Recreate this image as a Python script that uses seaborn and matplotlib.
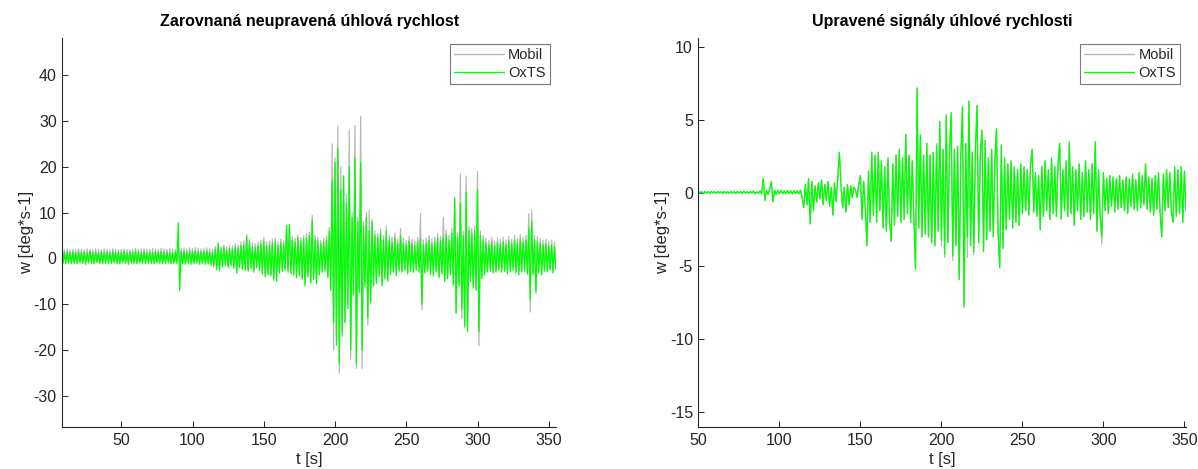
import numpy as np
import pandas as pd
import matplotlib
matplotlib.use("Agg")
import matplotlib.pyplot as plt
import seaborn as sns

# ---------------- data (1 s samples) ----------------
t0_left = 8      # first sample time of left panel [s]
t0_right = 50    # first sample time of right panel [s]

oxts_left = [
    1.4,-1.1,1.3,-1.2,1.5,-1.0,1.3,-1.2,1.4,-1.1,
    1.2,-1.2,1.5,-1.0,1.3,-1.1,1.4,-1.3,1.2,-1.0,
    1.5,-1.1,1.3,-1.2,1.4,-0.9,1.2,-1.1,1.5,-1.2,
    1.3,-1.0,1.4,-1.2,1.2,-1.1,1.5,-1.0,1.3,-1.2,
    1.4,-1.2,1.3,-1.0,1.5,-1.1,1.2,-1.3,1.4,-1.0,
    1.3,-1.1,1.6,-1.2,1.4,-1.0,1.3,-1.1,1.5,-1.2,
    1.2,-1.0,1.4,-1.1,1.3,-1.2,1.5,-1.0,1.4,-1.1,
    1.5,-1.2,1.3,-1.1,1.4,-1.0,1.2,-1.2,1.3,-1.1,
    1.4,-1.1,7.8,-7.0,1.5,-1.2,1.6,-1.3,1.4,-1.2,
    1.6,-1.3,1.5,-1.2,1.7,-1.1,1.5,-1.3,1.4,-1.2,
    1.5,-1.3,1.6,-1.2,1.4,-1.5,1.3,-1.8,2.0,-2.5,
    3.2,-2.6,2.0,-1.8,2.4,-1.5,1.8,-2.0,2.2,-1.6,
    2.0,-2.2,2.6,-3.2,2.2,-2.0,2.8,-2.4,3.0,-2.6,
    4.8,-2.8,3.4,-2.2,2.6,-3.0,2.4,-2.0,2.8,-2.6,
    3.2,-3.4,3.8,-4.0,2.8,-3.6,3.0,-3.8,3.4,-4.8,
    3.6,-5.0,2.8,-3.2,3.4,-2.8,3.0,-2.6,7.2,-3.0,
    7.4,-3.4,4.0,-3.6,3.6,-4.2,4.4,-3.8,3.8,-4.6,
    4.2,-6.0,4.6,-4.0,5.0,-5.4,8.4,-4.6,4.2,-5.6,
    3.8,-3.6,3.2,-3.0,3.6,-2.8,4.0,-4.2,6.0,-7.0,
    17.0,-14.0,21.0,-19.0,24.0,-23.0,15.0,-17.0,18.0,-14.0,
    12.0,-11.0,20.0,-20.0,9.0,-8.0,22.0,-23.0,8.0,-7.5,
    21.0,-20.0,7.0,-6.0,9.0,-13.0,6.0,-9.5,8.0,-6.0,
    5.0,-5.5,4.5,-4.0,5.5,-6.0,4.0,-4.5,6.0,-5.0,
    4.0,-3.5,3.6,-3.0,4.5,-3.8,3.2,-2.8,5.0,-3.0,
    3.4,-2.6,3.0,-3.4,3.8,-2.8,3.2,-3.0,2.8,-2.6,
    3.6,-3.0,4.2,-10.0,3.0,-3.2,3.4,-2.8,4.0,-3.6,
    3.2,-3.8,3.6,-3.0,4.4,-4.2,3.8,-3.4,4.6,-5.0,
    5.2,-4.4,4.0,-3.6,5.5,-5.8,13.0,-12.0,4.6,-6.0,
    12.0,-11.0,5.0,-15.0,14.5,-16.0,6.0,-5.0,5.5,-6.5,
    6.0,-7.0,15.0,-16.0,5.0,-4.4,4.0,-3.6,3.4,-3.0,
    3.0,-2.8,3.6,-3.2,2.8,-3.0,3.4,-2.6,3.2,-3.0,
    3.6,-2.8,3.0,-3.4,3.8,-3.0,3.2,-2.6,4.0,-3.2,
    3.4,-3.6,4.2,-3.0,3.6,-2.8,4.0,-3.4,6.5,-9.0,
    8.2,-3.6,4.0,-7.5,3.8,-3.2,3.4,-3.6,3.0,-2.8,
    3.2,-3.0,2.8,-2.6,3.0,-3.2,2.6,-2.4,2.2,-2.0,
]

mobil_left = [
    2.0,-0.8,1.9,-0.9,2.1,-0.7,1.9,-0.8,2.0,-0.9,
    1.9,-0.8,2.1,-0.7,2.0,-0.9,1.9,-0.8,2.1,-0.7,
    2.0,-0.9,1.9,-0.8,2.1,-0.7,2.0,-0.9,1.9,-0.8,
    2.1,-0.7,2.0,-0.8,1.9,-0.9,2.1,-0.8,2.0,-0.7,
    1.9,-0.8,2.0,-0.7,2.1,-0.9,2.0,-0.8,1.9,-0.7,
    2.0,-0.9,2.2,-0.8,2.0,-0.7,2.1,-0.8,2.2,-0.9,
    2.1,-0.8,2.0,-0.7,2.2,-0.9,2.1,-0.8,2.0,-0.7,
    2.2,-0.8,2.1,-0.9,2.0,-0.7,2.2,-0.8,2.1,-0.9,
    2.0,-0.8,2.6,-1.0,2.2,-0.8,2.3,-0.9,2.1,-0.7,
    2.3,-0.9,2.2,-0.8,2.4,-0.7,2.2,-0.9,2.1,-0.8,
    2.2,-0.9,2.3,-0.8,2.1,-1.0,2.0,-1.2,2.6,-2.0,
    3.4,-2.0,2.6,-1.4,3.0,-1.2,2.6,-1.6,2.8,-1.2,
    2.8,-1.8,3.2,-2.8,3.0,-1.6,3.6,-2.0,3.8,-2.2,
    5.2,-2.4,4.2,-1.8,3.4,-2.6,3.2,-1.6,3.6,-2.2,
    4.0,-3.0,4.6,-3.6,3.6,-3.2,3.8,-3.4,4.2,-4.4,
    4.4,-4.6,3.6,-2.8,4.2,-2.4,3.8,-2.2,7.0,-2.6,
    7.0,-3.0,4.8,-3.2,4.4,-3.8,5.2,-3.4,4.6,-4.2,
    5.0,-5.6,5.4,-3.6,5.8,-5.0,9.4,-4.2,5.0,-5.2,
    4.6,-3.2,4.0,-2.6,4.4,-2.4,4.8,-3.8,6.8,-6.6,
    25.0,-20.0,22.0,-17.0,29.0,-25.0,20.0,-16.0,18.0,-14.0,
    14.0,-10.0,28.0,-22.0,10.0,-7.5,29.0,-24.0,9.0,-7.0,
    31.0,-24.0,8.0,-5.5,10.0,-14.5,10.5,-10.0,8.5,-5.5,
    6.0,-5.0,5.5,-3.6,6.5,-5.5,5.0,-4.0,7.0,-4.6,
    5.0,-3.0,4.6,-2.6,5.5,-3.4,4.2,-2.4,6.5,-2.6,
    4.4,-2.2,4.0,-3.0,4.8,-2.4,4.2,-2.6,3.8,-2.2,
    4.6,-2.6,9.8,-11.2,4.0,-2.8,4.4,-2.4,5.0,-3.2,
    4.2,-3.4,4.6,-2.6,5.4,-3.8,4.8,-3.0,9.0,-4.6,
    6.2,-4.0,5.0,-3.2,6.5,-5.4,13.5,-11.8,5.6,-5.6,
    18.5,-13.0,6.0,-14.5,18.0,-15.5,7.0,-4.6,6.5,-6.0,
    7.0,-6.6,19.0,-19.0,6.0,-4.0,5.0,-3.2,4.4,-2.6,
    4.0,-2.4,4.6,-2.8,3.8,-2.6,4.4,-2.2,4.2,-2.6,
    4.6,-2.4,4.0,-3.0,4.8,-2.6,4.2,-2.2,5.0,-2.8,
    4.4,-3.2,5.2,-2.6,4.6,-2.4,5.0,-3.0,9.8,-11.7,
    10.5,-3.2,5.0,-7.0,4.8,-2.8,4.4,-3.2,4.0,-2.4,
    4.2,-2.6,3.8,-2.2,4.0,-2.8,3.6,-2.0,3.2,-1.6,
]

oxts_right = [
    0.12,0.0,0.1,-0.02,0.12,0.0,0.1,-0.02,0.12,0.0,
    0.1,-0.02,0.12,0.0,0.1,-0.02,0.12,0.0,0.1,-0.02,
    0.12,0.0,0.1,-0.03,0.12,0.0,0.1,-0.02,0.13,0.0,
    0.1,-0.02,0.12,0.0,0.14,-0.04,0.1,-0.02,0.15,-0.05,
    1.0,-0.5,0.2,-0.1,0.3,0.8,-0.6,0.2,-0.1,0.2,
    -0.05,0.18,-0.04,0.16,-0.05,0.18,-0.04,0.15,-0.05,0.17,
    -0.04,0.16,-0.05,0.2,-0.3,-1.0,0.6,-0.8,1.0,-2.1,
    0.8,-1.2,0.5,-0.6,0.7,-0.4,0.9,-0.8,0.6,-0.5,
    0.8,-0.9,0.4,-1.5,0.7,-0.6,1.0,2.8,0.6,-1.0,
    0.4,-1.3,0.6,-0.8,0.5,-0.3,0.4,0.2,-0.3,0.6,
    1.2,-1.8,0.8,-1.0,-3.6,1.5,-2.0,2.8,-1.5,2.6,
    -2.0,2.8,-1.2,2.2,-2.4,1.8,-2.6,2.4,-1.8,-3.3,
    2.0,-2.2,2.6,-1.6,3.0,-2.0,2.4,-1.8,4.0,-1.4,
    2.6,-2.0,2.2,-1.8,-5.2,7.2,-2.4,4.0,-3.0,2.6,
    -2.8,3.4,-3.0,2.6,-3.4,2.8,-3.6,3.2,-2.6,4.9,
    -3.2,3.0,-4.2,5.3,-3.4,2.8,5.5,-4.3,3.0,-3.6,
    3.2,-5.9,2.6,5.9,-7.8,3.4,-3.0,6.3,-3.6,2.8,
    -4.0,3.0,6.0,-3.4,2.6,4.3,-4.0,3.6,-3.2,2.4,
    -2.6,3.0,-3.0,2.2,4.4,-2.8,-5.1,3.3,-3.8,2.4,
    -2.5,2.0,-1.8,2.2,-2.4,1.8,-2.0,1.6,-2.2,2.0,
    -1.4,1.8,-1.2,1.6,-1.5,2.0,3.0,-1.3,1.4,-1.6,
    1.2,-2.5,1.8,-1.6,2.2,-1.2,1.6,-1.8,2.4,-1.4,
    1.8,-1.6,2.0,3.4,-1.8,1.6,-1.2,2.2,-1.6,3.5,
    -1.4,1.8,-2.2,1.6,-1.2,2.0,-1.8,1.4,-1.6,2.2,
    -1.3,1.6,-1.8,2.0,-1.4,3.5,-2.6,1.6,-1.5,-3.0,
    1.4,-1.2,1.0,-1.4,1.2,-0.9,1.1,-1.3,1.0,-1.1,
    1.2,-1.0,0.9,-1.2,1.1,-1.4,1.0,-0.9,1.3,-1.1,
    0.9,-1.2,1.4,-1.0,1.2,-0.8,2.0,-1.1,1.1,-1.3,
    1.0,-1.5,1.2,-1.1,1.4,-1.3,-3.0,1.3,-1.2,1.6,
    -1.0,1.4,-1.3,-2.0,1.8,-1.6,1.6,-1.4,1.8,-2.0,
    1.5,-1.2,1.2,-0.8,
]

mobil_right = [
    0.12,0.0,0.1,-0.02,0.12,0.0,0.1,-0.02,0.12,0.0,
    0.1,-0.02,0.12,0.0,0.1,-0.02,0.12,0.0,0.1,-0.02,
    0.12,0.0,0.1,-0.03,0.12,0.0,0.1,-0.02,0.13,0.0,
    0.1,-0.02,0.12,0.0,0.14,-0.04,0.1,-0.02,0.15,-0.05,
    1.0,-0.5,0.2,-0.1,0.3,0.8,-0.6,0.2,-0.1,0.2,
    -0.05,0.18,-0.04,0.16,-0.05,0.18,-0.04,0.15,-0.05,0.17,
    -0.04,0.16,-0.05,0.2,-0.3,-1.0,0.6,-0.8,1.0,-2.1,
    0.8,-1.2,0.5,-0.6,0.7,-0.4,0.9,-0.8,0.6,-0.5,
    0.8,-0.9,0.4,-1.5,0.7,-0.6,1.0,2.8,0.6,-1.0,
    0.4,-1.3,0.6,-0.8,0.5,-0.3,0.4,0.2,-0.3,0.6,
    1.2,-1.8,0.8,-1.0,-3.6,1.5,-2.0,2.8,-1.5,2.6,
    -2.0,2.8,-1.2,2.2,-2.4,1.8,-2.6,2.4,-1.8,-3.3,
    2.0,-2.2,2.6,-1.6,3.0,-2.0,2.4,-1.8,4.0,-1.4,
    2.6,-2.0,2.2,-1.8,-5.2,7.2,-2.4,4.0,-3.0,2.6,
    -2.8,3.4,-3.0,2.6,-3.4,2.8,-3.6,3.4,-2.6,4.9,
    -3.6,3.0,-4.4,5.4,-3.4,2.8,5.5,-4.6,3.0,-3.6,
    3.2,-5.9,2.6,5.9,-7.8,3.4,-4.4,6.3,-3.6,2.8,
    -4.2,3.0,6.0,-3.4,2.6,4.3,-4.0,3.6,-3.2,2.4,
    -2.6,3.0,-3.0,2.2,4.4,-2.8,-5.1,3.3,-3.8,2.4,
    -2.5,2.0,-1.8,2.2,-2.4,1.8,-2.0,1.6,-2.2,2.0,
    -1.4,1.8,-1.2,1.6,-1.5,2.0,3.0,-1.3,1.4,-1.6,
    1.2,-2.5,1.8,-1.6,2.2,-1.2,1.6,-1.8,2.4,-1.4,
    1.8,-1.6,2.0,3.4,-1.8,1.6,-1.2,2.2,-1.6,3.5,
    -1.4,1.8,-2.2,1.6,-1.2,2.0,-1.8,1.4,-1.6,2.2,
    -1.3,1.6,-1.8,2.0,-1.4,3.5,-2.6,1.6,-1.5,-3.5,
    1.4,-1.2,1.0,-1.4,1.2,-0.9,1.1,-1.3,1.0,-1.1,
    1.2,-1.0,0.9,-1.2,1.1,-1.4,1.0,-0.9,1.3,-1.1,
    0.9,-1.2,1.4,-1.0,1.2,-0.8,2.0,-1.1,1.1,-1.3,
    1.0,-1.5,1.2,-1.1,1.4,-1.3,-3.0,1.3,-1.2,1.6,
    -1.0,1.4,-1.3,-2.0,1.8,-1.6,1.6,-1.4,1.8,-2.0,
    1.5,-1.2,1.2,-0.8,
]

titles = ["Zarovnaná neupravená úhlová rychlost", "Upravené signály úhlové rychlosti"]
series_names = ["Mobil", "OxTS"]
xticks_left = [50, 100, 150, 200, 250, 300, 350]
yticks_left = [-30, -20, -10, 0, 10, 20, 30, 40]
xticks_right = [50, 100, 150, 200, 250, 300, 350]
yticks_right = [-15, -10, -5, 0, 5, 10]

# ---------------- styling ----------------
sns.set_theme(style="white")
plt.rcParams["font.family"] = ["Liberation Sans", "DejaVu Sans"]
plt.rcParams["axes.unicode_minus"] = False

GRAY = (0.72, 0.72, 0.72)
GREEN = (0.0, 1.0, 0.0)
AXC = (0.15, 0.15, 0.15)


def frame(t0, mobil, oxts):
    tm = t0 + np.arange(len(mobil))
    to = t0 + np.arange(len(oxts))
    return (pd.DataFrame({"t": tm, "w": mobil}), pd.DataFrame({"t": to, "w": oxts}))


fig = plt.figure(figsize=(11.98, 4.69), dpi=100)
ax1 = fig.add_axes([0.052, 0.0896, 0.412, 0.829])
ax2 = fig.add_axes([0.583, 0.0896, 0.407, 0.829])

panels = [
    (ax1, frame(t0_left, mobil_left, oxts_left), (8.6, 355), (-36.8, 48.1), xticks_left, yticks_left, titles[0]),
    (ax2, frame(t0_right, mobil_right, oxts_right), (50, 351), (-16.0, 10.6), xticks_right, yticks_right, titles[1]),
]

for ax, (dm, do), xl, yl, xt, yt, title in panels:
    sns.lineplot(data=dm, x="t", y="w", ax=ax, color=GRAY, linewidth=0.9,
                 estimator=None, sort=False, label=series_names[0])
    sns.lineplot(data=do, x="t", y="w", ax=ax, color=GREEN, linewidth=0.9,
                 estimator=None, sort=False, label=series_names[1])
    ax.set_xlim(*xl)
    ax.set_ylim(*yl)
    ax.set_xticks(xt)
    ax.set_yticks(yt)
    ax.set_xlabel("t [s]", fontsize=12, color=AXC, labelpad=3)
    ax.set_ylabel("w [deg*s-1]", fontsize=12, color=AXC, labelpad=0)
    ax.set_title(title, fontsize=11.5, fontweight="bold", color="black", pad=9)
    for s in ["top", "right"]:
        ax.spines[s].set_visible(False)
    for s in ["left", "bottom"]:
        ax.spines[s].set_color(AXC)
        ax.spines[s].set_linewidth(0.8)
    ax.tick_params(axis="both", direction="in", length=4, width=0.7,
                   colors=AXC, labelsize=11.5, left=True, bottom=True, pad=4)
    leg = ax.legend(loc="upper right", fontsize=10.5, frameon=True, fancybox=False,
                    edgecolor=(0.35, 0.35, 0.35), handlelength=3.4, handletextpad=0.3,
                    borderpad=0.3, labelspacing=0.25, borderaxespad=0.4)
    leg.get_frame().set_linewidth(0.8)
    for line in leg.get_lines():
        line.set_linewidth(1.0)

fig.savefig("out.png", dpi=100)
